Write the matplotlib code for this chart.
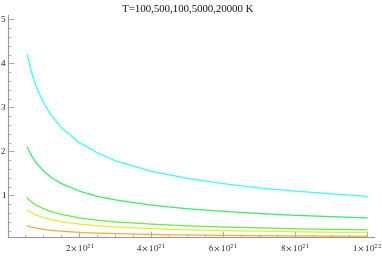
import matplotlib
matplotlib.use("Agg")
import matplotlib.pyplot as plt
from matplotlib.ticker import MultipleLocator, FuncFormatter

# x in units of 1e21
x = [0.55, 0.65, 0.8, 1.0, 1.2, 1.5, 2, 2.5, 3, 4, 5, 6, 7, 8, 9, 10]

curve_cyan = [4.19, 3.85, 3.47, 3.11, 2.84, 2.54, 2.20, 1.97, 1.79, 1.55, 1.39, 1.27, 1.17, 1.10, 1.04, 0.98]
curve_green = [2.10, 1.93, 1.74, 1.56, 1.42, 1.27, 1.10, 0.98, 0.90, 0.78, 0.70, 0.64, 0.59, 0.55, 0.52, 0.49]
curve_lime = [0.94, 0.865, 0.78, 0.70, 0.64, 0.57, 0.49, 0.44, 0.40, 0.35, 0.31, 0.285, 0.265, 0.245, 0.23, 0.22]
curve_yellow = [0.67, 0.615, 0.555, 0.50, 0.455, 0.405, 0.35, 0.315, 0.285, 0.25, 0.22, 0.20, 0.19, 0.175, 0.165, 0.16]
curve_orange = [0.31, 0.285, 0.257, 0.23, 0.21, 0.19, 0.162, 0.145, 0.133, 0.115, 0.103, 0.094, 0.087, 0.082, 0.077, 0.073]

series = [curve_orange, curve_yellow, curve_lime, curve_green, curve_cyan]
colors = ["#ffaa33", "#ddf033", "#66ee33", "#33ee66", "#33ffff"]

plt.rcParams["mathtext.fontset"] = "stix"
plt.rcParams["font.family"] = "Liberation Serif"

fig = plt.figure(figsize=(3.82, 2.77), dpi=100)
ax = fig.add_axes([7.5 / 382, (277 - 236.7) / 277, (374 - 7.5) / 382, (236.7 - 15) / 277])

xs = [v * 1e21 for v in x]
for ys, c in zip(series, colors):
    ax.plot(xs, ys, color=c, lw=0.9)

ax.set_xlim(0, 1.02e22)
ax.set_ylim(0.064, 5.1)

for s in ["top", "right"]:
    ax.spines[s].set_visible(False)
for s in ["left", "bottom"]:
    ax.spines[s].set_color("#999999")
    ax.spines[s].set_linewidth(0.8)

ax.xaxis.set_major_locator(MultipleLocator(2e21))
ax.xaxis.set_minor_locator(MultipleLocator(0.5e21))
ax.yaxis.set_major_locator(MultipleLocator(1))
ax.yaxis.set_minor_locator(MultipleLocator(0.2))


def xfmt(v, pos):
    if v <= 0:
        return ""
    m = v / 1e21
    if abs(m - 10) < 1e-6:
        return r"$1\times10^{22}$"
    return r"$%d\times10^{21}$" % round(m)


ax.xaxis.set_major_formatter(FuncFormatter(xfmt))
ax.yaxis.set_major_formatter(FuncFormatter(lambda v, p: "%d" % v if v >= 1 else ""))

ax.tick_params(axis="both", which="major", direction="in", length=4, width=0.6,
               color="#999999", labelsize=6.5, labelcolor="#222222")
ax.tick_params(axis="both", which="minor", direction="in", length=2, width=0.5, color="#999999")
ax.tick_params(axis="x", pad=4)
ax.tick_params(axis="y", pad=1.5)

fig.text(0.492, 0.985, "T=100,500,100,5000,20000 K", ha="center", va="top",
         fontsize=7.8, color="#111111")

fig.savefig("out.png", dpi=100)
